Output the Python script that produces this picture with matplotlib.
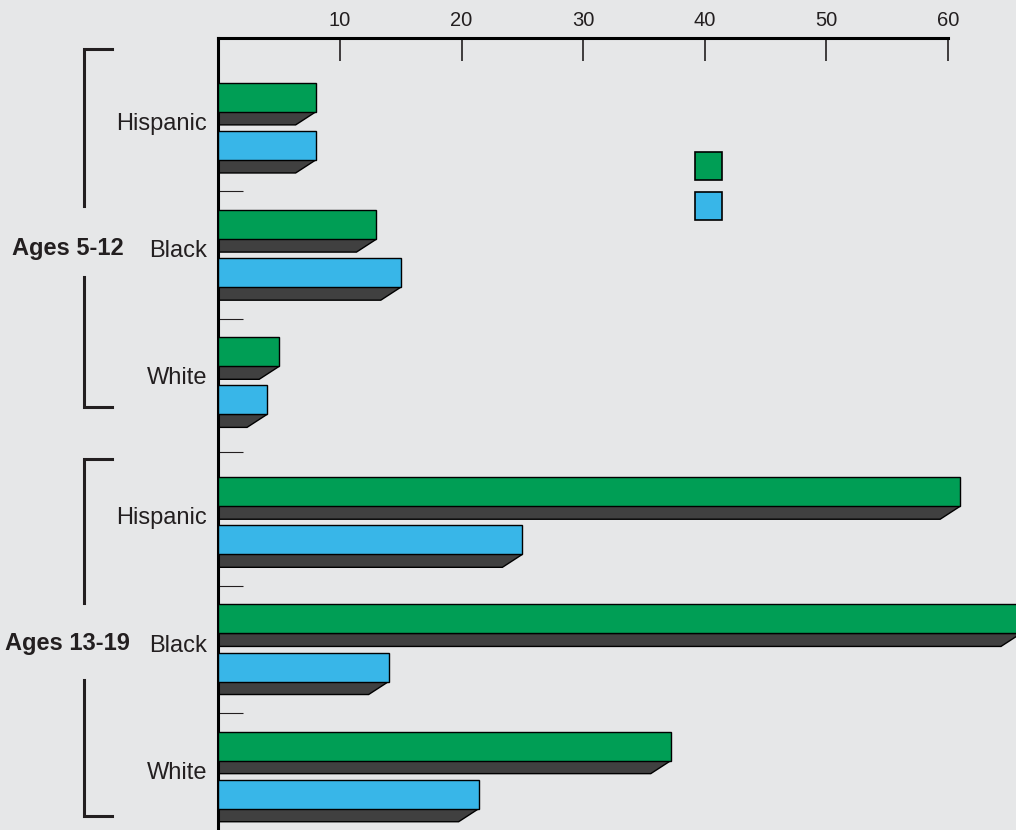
import matplotlib
matplotlib.use("Agg")
import matplotlib.pyplot as plt
import matplotlib.transforms as mtransforms
from matplotlib.patches import Polygon, Rectangle
import numpy as np

# data
races = ['Hispanic', 'Black', 'White', 'Hispanic', 'Black', 'White']
age_groups = ['Ages 5-12', 'Ages 13-19']
group_of = [0, 0, 0, 1, 1, 1]
green_vals = [8, 13, 5, 61, 66, 37.2]
blue_vals = [8, 15, 4, 25, 14, 21.4]
xticks = [10, 20, 30, 40, 50, 60]

BG = '#e6e7e8'
GREEN = '#009e55'
BLUE = '#38b6e8'
SHADOW = '#404040'
TXT = '#231f20'

W, H = 1016, 830
fig = plt.figure(figsize=(W / 100, H / 100), dpi=100, facecolor=BG)
plt.rcParams['font.family'] = ['Liberation Sans', 'DejaVu Sans']

ax_left, ax_top = 218.4, 38
ax = fig.add_axes([ax_left / W, 0, 1 - ax_left / W, (H - ax_top) / H])
ax.set_facecolor(BG)

# category positions, with a little extra gap between the age groups
pos = np.array([i + 0.1 * g for i, g in enumerate(group_of)])

bar_h = 0.228
off = 0.189
dx, dy = 1.645, 0.102   # shadow depth in data units

ax.barh(pos - off, green_vals, height=bar_h, color=GREEN, edgecolor='black',
        linewidth=1, zorder=3)
ax.barh(pos + off, blue_vals, height=bar_h, color=BLUE, edgecolor='black',
        linewidth=1, zorder=3)

# shadows under each bar
for centers, vals in [(pos - off, green_vals), (pos + off, blue_vals)]:
    for c, v in zip(centers, vals):
        yb = c + bar_h / 2
        ax.add_patch(Polygon([(0, yb), (v, yb), (v - dx, yb + dy), (0, yb + dy)],
                             closed=True, facecolor=SHADOW, edgecolor='black',
                             linewidth=1, zorder=2))

ax.set_xlim(0, (W - ax_left) / 12.16)
ax.set_ylim(5.57, -0.656)

# axes styling
for s in ['right', 'bottom']:
    ax.spines[s].set_visible(False)
ax.spines['top'].set_bounds(0, 60)
ax.spines['top'].set_linewidth(2.2)
ax.spines['left'].set_linewidth(2.2)

ax.xaxis.tick_top()
ax.set_xticks(xticks)
ax.tick_params(axis='x', direction='in', length=16.5, width=1.2, pad=5.5,
               labelsize=14.5, colors=TXT)

ax.set_yticks(pos, labels=races)
ax.tick_params(axis='y', which='major', length=0, pad=8, labelsize=17,
               labelcolor=TXT)
bounds = (pos[:-1] + pos[1:]) / 2 + 0.05
ax.set_yticks(bounds, minor=True)
ax.tick_params(axis='y', which='minor', direction='in', length=18, width=0.8,
               color=TXT)

# age group labels and brackets
blend = mtransforms.blended_transform_factory(fig.transFigure, ax.transData)
for g, name in enumerate(age_groups):
    idx = [i for i, k in enumerate(group_of) if k == g]
    ax.text(67.5 / W, pos[idx[1]], name, transform=blend, ha='center',
            va='center', fontsize=17, fontweight='bold', color=TXT)

brackets = [(-0.57, 0.664, 1.222, 2.245), (2.653, 3.785, 4.391, 5.46)]
xv, xh = 84 / W, 112 / W
for top, g0, g1, bot in brackets:
    ax.plot([xh, xv, xv], [top, top, g0], transform=blend, color=TXT,
            lw=2.2, clip_on=False, solid_joinstyle='miter')
    ax.plot([xv, xv, xh], [g1, bot, bot], transform=blend, color=TXT,
            lw=2.2, clip_on=False, solid_joinstyle='miter')

# legend swatches (no text in the original)
for y0, col in [(152, GREEN), (192, BLUE)]:
    fig.add_artist(Rectangle((695 / W, 1 - (y0 + 28) / H), 27 / W, 28 / H,
                             transform=fig.transFigure, facecolor=col,
                             edgecolor='black', linewidth=1.2))

fig.savefig('out.png', dpi=100, facecolor=BG)
